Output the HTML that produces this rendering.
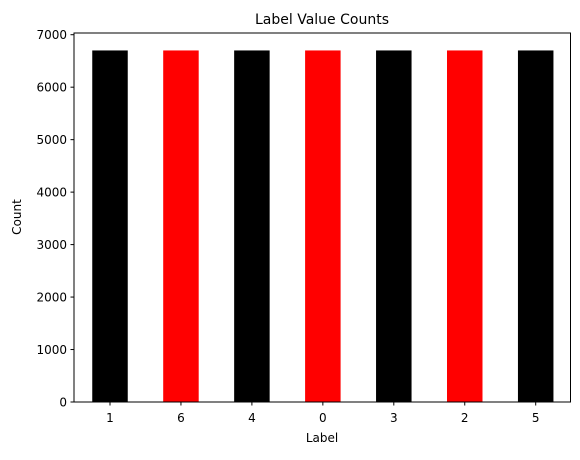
<!DOCTYPE html>
<html><head><meta charset="utf-8"><style>
body{margin:0;background:#fff;}
svg text{font-family:"DejaVu Sans","Liberation Sans",sans-serif;fill:#000;}
</style></head><body>
<svg id="chart" width="580" height="455" viewBox="0 0 580 455" xmlns="http://www.w3.org/2000/svg">
<rect width="580" height="455" fill="#fff"/>
<g id="bars"></g>
<g id="yticks"></g>
<g id="xticks"></g>
<rect x="74" y="33" width="496.5" height="369" fill="none" stroke="#000" stroke-width="1"/>
<text x="322" y="24" font-size="14" text-anchor="middle">Label Value Counts</text>
<text x="322" y="442" font-size="12" text-anchor="middle">Label</text>
<text x="0" y="0" font-size="12" text-anchor="middle" transform="translate(21,217) rotate(-90)">Count</text>
</svg>
<script>
const categories = ["1","6","4","0","3","2","5"];
const counts = [6700,6700,6700,6700,6700,6700,6700];
const colors = ["black","red","black","red","black","red","black"];
const yTicks = [0,1000,2000,3000,4000,5000,6000,7000];
const NS="http://www.w3.org/2000/svg";
const y0=402, pxPer=52.47/1000;
function yScale(v){return y0-v*pxPer;}
function xScale(i){return 110+70.95*i;}
const bw=35.5;
const bars=document.getElementById('bars');
categories.forEach((c,i)=>{
  const r=document.createElementNS(NS,'rect');
  r.setAttribute('x',xScale(i)-bw/2);
  r.setAttribute('y',yScale(counts[i]));
  r.setAttribute('width',bw);
  r.setAttribute('height',y0-yScale(counts[i]));
  r.setAttribute('fill',colors[i]);
  
  
  bars.appendChild(r);
});
const xt=document.getElementById('xticks');
categories.forEach((c,i)=>{
  const l=document.createElementNS(NS,'line');
  l.setAttribute('x1',xScale(i));l.setAttribute('x2',xScale(i));
  l.setAttribute('y1',402);l.setAttribute('y2',405.5);
  l.setAttribute('stroke','#000');
  
  
  xt.appendChild(l);
  const t=document.createElementNS(NS,'text');
  t.setAttribute('x',xScale(i));t.setAttribute('y',422);
  t.setAttribute('font-size','12');t.setAttribute('text-anchor','middle');
  t.textContent=c;
  
  
  xt.appendChild(t);
});
const yt=document.getElementById('yticks');
yTicks.forEach(v=>{
  const y=yScale(v);
  const l=document.createElementNS(NS,'line');
  l.setAttribute('x1',70.5);l.setAttribute('x2',74);
  l.setAttribute('y1',y);l.setAttribute('y2',y);
  l.setAttribute('stroke','#000');
  
  
  yt.appendChild(l);
  const t=document.createElementNS(NS,'text');
  t.setAttribute('x',67);t.setAttribute('y',y+4.5);
  t.setAttribute('font-size','12');t.setAttribute('text-anchor','end');
  t.textContent=v;
  
  
  yt.appendChild(t);
});
</script>
</body></html>
